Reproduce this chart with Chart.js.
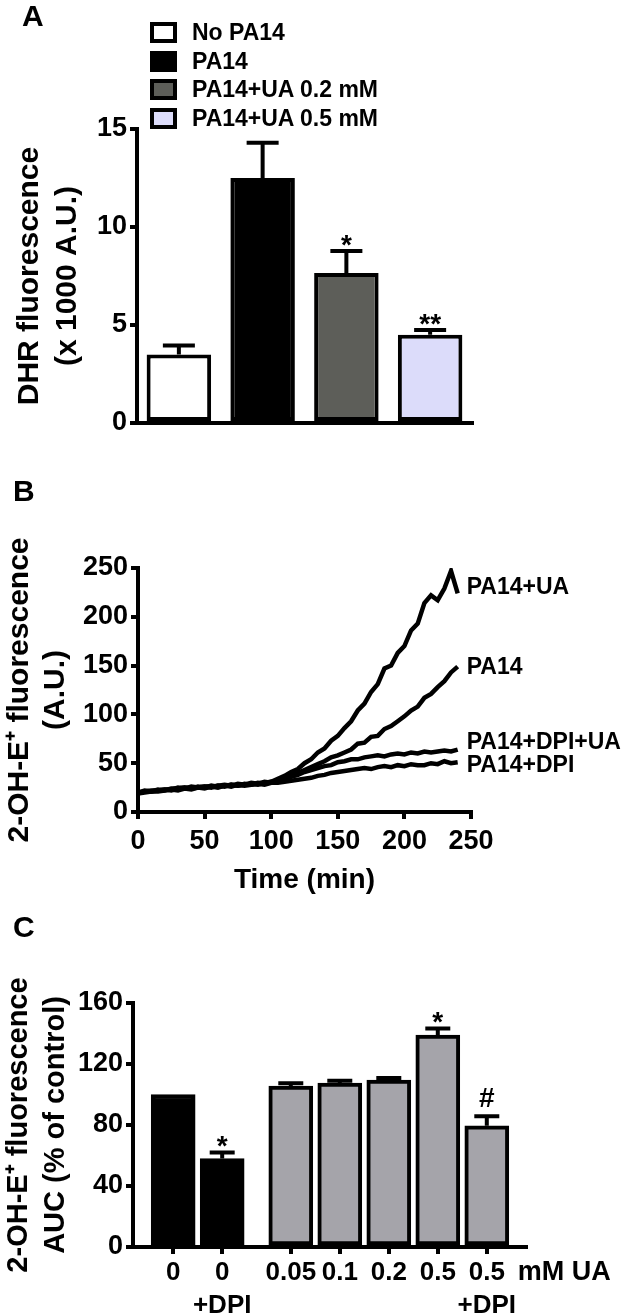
<!DOCTYPE html>
<html>
<head>
<meta charset="utf-8">
<title>DHR and 2-OH-E+ fluorescence</title>
<script src="https://cdn.jsdelivr.net/npm/chart.js@4.4.1/dist/chart.umd.min.js"></script>
<style>
  html, body { margin: 0; padding: 0; background: #fff; }
  body { position: relative; width: 625px; height: 1314px; overflow: hidden;
         font-family: "Liberation Sans", Arial, sans-serif; font-weight: bold; color: #000; }
  .tag { position: absolute; font-size: 30px; line-height: 30px; }
  .panel { position: absolute; left: 0; }
  #legendA { position: absolute; left: 150px; top: 18px; }
  #legendA .row { display: flex; align-items: center; height: 28.7px; font-size: 23px; }
  #legendA .box { box-sizing: border-box; width: 27px; height: 21px; border: 4px solid #000; margin-right: 15px; }
</style>
</head>
<body>
<canvas id="chartA" class="panel" width="625" height="450" style="top:0"></canvas>
<canvas id="chartB" class="panel" width="625" height="460" style="top:450px"></canvas>
<canvas id="chartC" class="panel" width="625" height="414" style="top:900px"></canvas>
<div class="tag" style="left:22px;top:1px">A</div>
<div class="tag" style="left:13px;top:476px">B</div>
<div class="tag" style="left:13px;top:912px">C</div>
<div id="legendA"></div>
<script>
// Panel A - DHR fluorescence
const groupsA = ['No PA14', 'PA14', 'PA14+UA 0.2 mM', 'PA14+UA 0.5 mM'];
const dhrMeans = [3.5, 12.5, 7.65, 4.5];
const dhrErrors = [0.45, 1.8, 1.13, 0.25];
const marksA = ['', '', '*', '**'];

// Panel B - 2-OH-E+ kinetics
const timeMin = [0, 5, 10, 15, 20, 25, 30, 35, 40, 45, 50, 55, 60, 65, 70, 75, 80, 85, 90, 95,
  100, 105, 110, 115, 120, 125, 130, 135, 140, 145, 150, 155, 160, 165, 170, 175, 180, 185, 190, 195,
  200, 205, 210, 215, 220, 225, 230, 235, 240];
const tracePA14UA = [20, 22, 21, 23, 22, 24, 24, 25, 24, 26, 25, 27, 26, 27, 28, 27, 29, 28, 30, 29,
  31, 34, 37, 41, 44, 50, 54, 61, 65, 73, 78, 86, 93, 104, 111, 123, 131, 147, 150, 163,
  170, 186, 193, 214, 222, 217, 229, 247, 224];
const tracePA14 = [19, 21, 22, 22, 23, 23, 25, 24, 26, 25, 26, 26, 27, 28, 27, 29, 28, 30, 29, 31,
  30, 33, 34, 38, 40, 43, 46, 49, 52, 56, 58, 61, 64, 70, 71, 77, 78, 85, 88, 93,
  98, 104, 108, 117, 121, 128, 134, 143, 149];
const tracePA14DPIUA = [20, 21, 21, 22, 23, 22, 24, 25, 24, 25, 26, 25, 27, 26, 28, 27, 28, 29, 28, 30,
  31, 32, 34, 36, 38, 41, 43, 45, 47, 48, 51, 52, 54, 54, 56, 57, 58, 57, 59, 60,
  59, 61, 60, 62, 61, 62, 63, 62, 64];
const tracePA14DPI = [19, 20, 21, 21, 22, 23, 22, 24, 23, 25, 24, 26, 25, 27, 26, 28, 27, 28, 29, 28,
  30, 30, 31, 32, 33, 34, 35, 37, 38, 40, 41, 42, 43, 44, 45, 44, 46, 47, 46, 48,
  47, 49, 48, 48, 50, 49, 52, 50, 51];
const traceNames = ['PA14+UA', 'PA14', 'PA14+DPI+UA', 'PA14+DPI'];

// Panel C - AUC vs UA dose
const doseLabels = [['0'], ['0', '+DPI'], ['0.05'], ['0.1'], ['0.2'], ['0.5'], ['0.5', '+DPI']];
const doseSlots = [0, 1, 2.4, 3.4, 4.4, 5.4, 6.4];
const aucMeans = [100, 58, 105.5, 107.5, 109.5, 139, 79.5];
const aucErrors = [0, 4, 1.8, 1.5, 1.3, 4.3, 6.3];
const marksC = ['', '*', '', '', '', '*', '#'];

const colorsA = ['#ffffff', '#000000', '#5d5e59', '#dcdcfa'];
const colorsC = ['#000000', '#000000', '#a5a4aa', '#a5a4aa', '#a5a4aa', '#a5a4aa', '#a5a4aa'];
const FONT = '"Liberation Sans", Arial, sans-serif';

Chart.defaults.font.family = FONT;
Chart.defaults.font.weight = 'bold';
Chart.defaults.color = '#000';
Chart.defaults.animation = false;
Chart.defaults.responsive = false;
Chart.defaults.plugins.legend.display = false;
Chart.defaults.plugins.tooltip.enabled = false;

// legend for panel A
const legendEl = document.getElementById('legendA');
groupsA.forEach((g, i) => {
  const row = document.createElement('div');
  row.className = 'row';
  row.innerHTML = '<span class="box" style="background:' + colorsA[i] + '"></span><span>' + g + '</span>';
  legendEl.appendChild(row);
});

function xy(xs, ys) {
  return xs.map((x, i) => ({ x: x, y: ys[i] }));
}

function axisParts(tickSize) {
  return {
    border: { display: true, color: '#000', width: 4 },
    grid: { display: true, drawOnChartArea: false, drawTicks: true, tickLength: 7, color: '#000', lineWidth: 4 },
    ticks: { color: '#000', padding: 3, maxRotation: 0, minRotation: 0, font: { size: tickSize, weight: 'bold' } }
  };
}

// error bars (upper only) + significance marks
const errorBars = {
  id: 'errorBars',
  afterDatasetsDraw(chart, args, opts) {
    const ctx = chart.ctx;
    const yScale = chart.scales.y;
    const bars = chart.getDatasetMeta(0).data;
    ctx.save();
    ctx.strokeStyle = '#000';
    ctx.fillStyle = '#000';
    ctx.lineWidth = 4;
    bars.forEach((bar, i) => {
      const top = yScale.getPixelForValue(opts.means[i] + opts.errors[i]);
      if (opts.errors[i]) {
        ctx.beginPath();
        ctx.moveTo(bar.x, bar.y);
        ctx.lineTo(bar.x, top);
        ctx.moveTo(bar.x - opts.cap / 2, top);
        ctx.lineTo(bar.x + opts.cap / 2, top);
        ctx.stroke();
      }
      const mark = opts.marks[i];
      if (mark) {
        ctx.font = 'bold 28px ' + FONT;
        ctx.textAlign = 'center';
        ctx.textBaseline = 'alphabetic';
        ctx.fillText(mark, bar.x, top + (mark === '#' ? -9 : 3));
      }
    });
    ctx.restore();
  }
};

// series names at the right end of each trace
const endLabels = {
  id: 'endLabels',
  afterDatasetsDraw(chart, args, opts) {
    const ctx = chart.ctx;
    ctx.save();
    ctx.font = 'bold 23px ' + FONT;
    ctx.fillStyle = '#000';
    ctx.textAlign = 'left';
    ctx.textBaseline = 'middle';
    chart.data.datasets.forEach((ds, i) => {
      const pts = chart.getDatasetMeta(i).data;
      const last = pts[pts.length - 1];
      ctx.fillText(ds.label, last.x + 9, last.y + opts.nudge[i]);
    });
    ctx.restore();
  }
};

// "mM UA" unit after the last dose label
const unitLabel = {
  id: 'unitLabel',
  afterDraw(chart, args, opts) {
    const ctx = chart.ctx;
    const px = chart.scales.x.getPixelForValue(opts.at);
    ctx.save();
    ctx.font = 'bold 27px ' + FONT;
    ctx.fillStyle = '#000';
    ctx.textAlign = 'left';
    ctx.textBaseline = 'middle';
    ctx.fillText(opts.text, px + 31, chart.chartArea.bottom + 26);
    ctx.restore();
  }
};

// ---- Panel A ----
const aX = axisParts(27);
aX.grid.drawTicks = false;
aX.ticks = { display: false };
const aY = axisParts(27);
aY.min = 0;
aY.max = 15;
aY.ticks.stepSize = 5;
aY.title = { display: true, text: ['DHR fluorescence', '(x 1000 A.U.)'], color: '#000',
  font: { size: 30, weight: 'bold', lineHeight: 1.27 }, padding: { top: 11, bottom: 0 } };
aY.afterFit = s => { s.width = 137; };
aX.afterFit = s => { s.height = 0; };

new Chart(document.getElementById('chartA'), {
  type: 'bar',
  data: {
    labels: groupsA,
    datasets: [{
      data: dhrMeans,
      backgroundColor: colorsA,
      borderColor: '#000',
      borderWidth: 4,
      borderSkipped: false,
      barPercentage: 0.77,
      categoryPercentage: 1
    }]
  },
  options: {
    layout: { padding: { left: 0, top: 129, right: 153, bottom: 27 } },
    plugins: { errorBars: { means: dhrMeans, errors: dhrErrors, marks: marksA, cap: 32 } },
    scales: { x: aX, y: aY }
  },
  plugins: [errorBars]
});

// ---- Panel B ----
const bX = axisParts(27);
bX.type = 'linear';
bX.min = 0;
bX.max = 250;
bX.ticks.stepSize = 50;
bX.ticks.padding = 6;
bX.title = { display: true, text: 'Time (min)', color: '#000',
  font: { size: 28, weight: 'bold' }, padding: { top: 0, bottom: 13 } };
bX.afterFit = s => { s.height = 98; };
const bY = axisParts(27);
bY.min = 0;
bY.max = 250;
bY.ticks.stepSize = 50;
bY.title = { display: true, text: ['2-OH-E\u207A fluorescence', '(A.U.)'], color: '#000',
  font: { size: 30, weight: 'bold', lineHeight: 1.2 }, padding: { top: 2, bottom: 0 } };
bY.afterFit = s => { s.width = 138; };

const traces = [tracePA14UA, tracePA14, tracePA14DPIUA, tracePA14DPI];
new Chart(document.getElementById('chartB'), {
  type: 'line',
  data: {
    datasets: traces.map((t, i) => ({
      label: traceNames[i],
      data: xy(timeMin, t),
      borderColor: '#000',
      backgroundColor: '#000',
      borderWidth: 4.5,
      pointRadius: 0,
      tension: 0,
      fill: false
    }))
  },
  options: {
    layout: { padding: { left: 0, top: 118, right: 154, bottom: 0 } },
    plugins: { endLabels: { nudge: [-6, 1, -7, 3] } },
    scales: { x: bX, y: bY }
  },
  plugins: [endLabels]
});

// ---- Panel C ----
const cX = axisParts(27);
cX.type = 'linear';
cX.offset = false;
cX.grid.offset = false;
cX.min = -0.82;
cX.max = 7.2;
cX.afterBuildTicks = s => { s.ticks = doseSlots.map(v => ({ value: v })); };
cX.ticks.autoSkip = false;
cX.ticks.padding = 2;
cX.ticks.font = { size: 26, weight: 'bold', lineHeight: 1.27 };
cX.ticks.callback = (v, i) => doseLabels[i];
cX.afterFit = s => { s.height = 67; };
const cY = axisParts(27);
cY.min = 0;
cY.max = 160;
cY.ticks.stepSize = 40;
cY.title = { display: true, text: ['2-OH-E\u207A fluorescence', 'AUC (% of control)'], color: '#000',
  font: { size: 29, weight: 'bold', lineHeight: 1.27 }, padding: { top: 1, bottom: 0 } };
cY.afterFit = s => { s.width = 133; };

new Chart(document.getElementById('chartC'), {
  type: 'bar',
  data: {
    datasets: [{
      data: xy(doseSlots, aucMeans),
      backgroundColor: colorsC,
      borderColor: '#000',
      borderWidth: 4,
      borderSkipped: false,
      barThickness: 44
    }]
  },
  options: {
    layout: { padding: { left: 0, top: 103, right: 99, bottom: 0 } },
    plugins: {
      errorBars: { means: aucMeans, errors: aucErrors, marks: marksC, cap: 25 },
      unitLabel: { at: doseSlots[doseSlots.length - 1], text: 'mM UA' }
    },
    scales: { x: cX, y: cY }
  },
  plugins: [errorBars, unitLabel]
});
</script>
</body>
</html>
